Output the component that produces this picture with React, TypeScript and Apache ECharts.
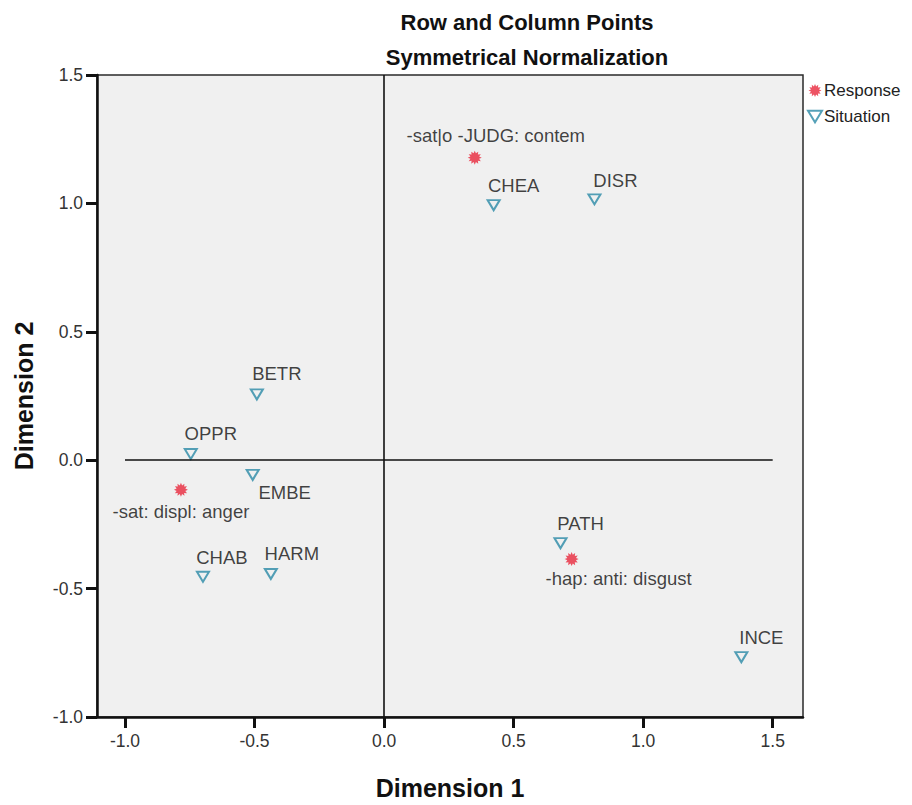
import React, { useEffect, useRef } from "react";
import * as echarts from "echarts";

const titleLines = ["Row and Column Points", "Symmetrical Normalization"];
const xAxisName = "Dimension 1";
const yAxisName = "Dimension 2";

const responseNames = ["-sat|o -JUDG: contem", "-sat: displ: anger", "-hap: anti: disgust"];
const responseX = [0.35, -0.784, 0.724];
const responseY = [1.178, -0.115, -0.385];

const situationNames = ["CHEA", "DISR", "BETR", "OPPR", "EMBE", "PATH", "CHAB", "HARM", "INCE"];
const situationX = [0.423, 0.812, -0.491, -0.746, -0.507, 0.681, -0.699, -0.437, 1.379];
const situationY = [0.993, 1.016, 0.256, 0.024, -0.057, -0.323, -0.454, -0.443, -0.767];

const xTicks = [-1.0, -0.5, 0.0, 0.5, 1.0, 1.5];
const xRange = [-1.108, 1.617];
const yRange = [-1.0, 1.5];
const zeroLineXExtent = [-1.0, 1.5];

// label placement (pixel offsets of label centre from point)
const responseLabelOffsets = [[21, -22], [0, 22], [47, 19]];
const situationLabelOffsets = [[20, -20], [21, -19], [20, -21], [20, -21], [32, 18], [20, -20], [19, -19], [21, -20], [20, -20]];

const FONT = "'Liberation Sans', Arial, Helvetica, sans-serif";

function starPath(): string {
  const pts: string[] = [];
  const n = 24;
  for (let i = 0; i < n; i++) {
    const a = (i * 2 * Math.PI) / n - Math.PI / 2;
    const r = i % 2 === 0 ? 10 : 6.4;
    const x = (10 + r * Math.cos(a)).toFixed(2);
    const y = (10 + r * Math.sin(a)).toFixed(2);
    pts.push((i === 0 ? "M" : "L") + x + " " + y);
  }
  return "path://" + pts.join(" ") + " Z";
}

const downTriangle = "path://M0 0 L12 0 L6 10 Z";

export default function App() {
  const ref = useRef<HTMLDivElement>(null);
  useEffect(() => {
    if (!ref.current) return;
    const chart = echarts.init(ref.current, undefined, { renderer: "svg" });
    const star = starPath();
    const labelStyle = {
      show: true,
      position: "inside" as const,
      align: "center",
      verticalAlign: "middle",
      fontFamily: FONT,
      fontSize: 18.5,
      color: "#111",
    };
    const option: any = {
      animation: false,
      backgroundColor: "#ffffff",
      graphic: [
        {
          type: "text",
          x: 527,
          y: 22,
          style: { text: titleLines[0], font: `bold 22px ${FONT}`, fill: "#111", textAlign: "center", textVerticalAlign: "middle" },
        },
        {
          type: "text",
          x: 527,
          y: 57,
          style: { text: titleLines[1], font: `bold 22px ${FONT}`, fill: "#111", textAlign: "center", textVerticalAlign: "middle" },
        },
      ],
      legend: {
        orient: "vertical",
        left: 807,
        top: 82,
        padding: 0,
        itemWidth: 14,
        itemHeight: 13,
        itemGap: 9,
        textStyle: { fontFamily: FONT, fontSize: 17, color: "#222", padding: [0, 0, 0, -3] },
        data: [
          { name: "Response", icon: star },
          { name: "Situation", icon: downTriangle },
        ],
      },
      grid: {
        left: 97,
        top: 75,
        width: 706,
        height: 648,
        show: true,
        backgroundColor: "#f0f0f0",
        borderColor: "#2a2a2a",
        borderWidth: 1.5,
      },
      xAxis: {
        type: "value",
        min: xRange[0],
        max: xRange[1],
        name: xAxisName,
        nameLocation: "middle",
        nameGap: 58,
        nameTextStyle: { fontFamily: FONT, fontSize: 25, fontWeight: "bold", color: "#111" },
        axisLine: { show: true, onZero: false, lineStyle: { color: "#111", width: 2.5 } },
        axisTick: { show: true, inside: false, length: 11, customValues: xTicks, lineStyle: { color: "#111", width: 3 } },
        axisLabel: {
          show: true,
          customValues: xTicks,
          margin: 15,
          fontFamily: FONT,
          fontSize: 17.5,
          color: "#333",
          formatter: (v: number) => v.toFixed(1),
        },
        splitLine: { show: false },
      },
      yAxis: {
        type: "value",
        min: yRange[0],
        max: yRange[1],
        interval: 0.5,
        name: yAxisName,
        nameLocation: "middle",
        nameGap: 61,
        nameRotate: 90,
        nameTextStyle: { fontFamily: FONT, fontSize: 25, fontWeight: "bold", color: "#111" },
        axisLine: { show: true, onZero: false, lineStyle: { color: "#111", width: 2.5 } },
        axisTick: { show: true, inside: false, length: 11, lineStyle: { color: "#111", width: 3 } },
        axisLabel: {
          show: true,
          margin: 14,
          fontFamily: FONT,
          fontSize: 17.5,
          color: "#333",
          formatter: (v: number) => v.toFixed(1),
        },
        splitLine: { show: false },
      },
      series: [
        {
          name: "Response",
          type: "scatter",
          symbol: star,
          symbolSize: 14,
          itemStyle: { color: "#e8283c" },
          data: responseNames.map((n, i) => ({
            name: n,
            value: [responseX[i], responseY[i]],
            label: { ...labelStyle, formatter: n, offset: responseLabelOffsets[i] },
          })),
          z: 3,
          markLine: {
            silent: true,
            symbol: "none",
            label: { show: false },
            lineStyle: { color: "#111", width: 1.6, type: "solid" },
            data: [
              { xAxis: 0 },
              [{ coord: [zeroLineXExtent[0], 0] }, { coord: [zeroLineXExtent[1], 0] }],
            ],
          },
        },
        {
          name: "Situation",
          type: "scatter",
          symbol: downTriangle,
          symbolSize: [12, 10],
          itemStyle: { color: "rgba(240,240,240,0)", borderColor: "#2b8aa6", borderWidth: 2 },
          data: situationNames.map((n, i) => ({
            name: n,
            value: [situationX[i], situationY[i]],
            label: { ...labelStyle, formatter: n, offset: situationLabelOffsets[i] },
          })),
          z: 3,
        },
      ],
    };
    chart.setOption(option);
    return () => chart.dispose();
  }, []);
  return <div ref={ref} style={{ position: "fixed", left: 0, top: 0, width: 912, height: 805 }} />;
}
